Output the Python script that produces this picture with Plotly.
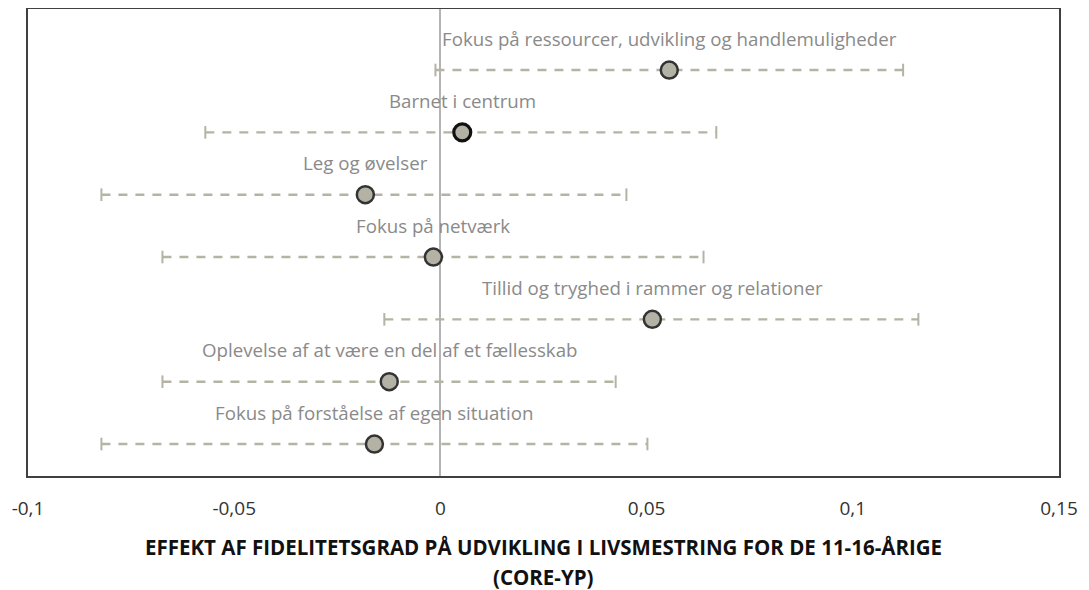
"""Fidelity effect on life-skills development (CORE-YP), 11-16 year olds."""

import plotly.graph_objects as go

LABELS = [
    "Fokus på ressourcer, udvikling og handlemuligheder",
    "Barnet i centrum",
    "Leg og øvelser",
    "Fokus på netværk",
    "Tillid og tryghed i rammer og relationer",
    "Oplevelse af at være en del af et fællesskab",
    "Fokus på forståelse af egen situation",
]
ESTIMATE = [0.0555, 0.0053, -0.0182, -0.0017, 0.0514, -0.0124, -0.0160]
LOWER = [-0.0012, -0.0570, -0.0822, -0.0674, -0.0136, -0.0674, -0.0822]
UPPER = [0.1122, 0.0669, 0.0451, 0.0638, 0.1159, 0.0425, 0.0502]
TICK_VALS = [-0.1, -0.05, 0, 0.05, 0.1, 0.15]
TICK_TEXT = ["-0,1", "-0,05", "0", "0,05", "0,1", "0,15"]

FONT = "Open Sans, Lato, sans-serif"
BAR = "#b5b3a4"      # dashed interval colour
DOT = "#b3b2a4"      # marker fill
LABEL = "#8a8a8a"

rows = list(range(len(LABELS), 0, -1))   # top row first

fig = go.Figure()

for y, lo, hi in zip(rows, LOWER, UPPER):
    fig.add_trace(go.Scatter(
        x=[lo, hi], y=[y, y], mode="lines+markers",
        line=dict(color=BAR, width=2.4, dash="9px,8px"),
        marker=dict(symbol="line-ns-open", size=9,
                    line=dict(color=BAR, width=2)),
        hoverinfo="skip", showlegend=False,
    ))

fig.add_trace(go.Scatter(
    x=ESTIMATE, y=rows, mode="markers",
    marker=dict(size=17, color=DOT,
                line=dict(color=["#333333", "#111111"] + ["#333333"] * 5,
                          width=[2.5, 3.2] + [2.5] * 5)),
    customdata=LABELS,
    hovertemplate="%{customdata}: %{x:.3f}<extra></extra>",
    showlegend=False,
))

for y, x, txt in zip(rows, ESTIMATE, LABELS):
    fig.add_annotation(x=x, y=y, text=txt, showarrow=False,
                       xanchor="center", yanchor="middle", yshift=32,
                       font=dict(family=FONT, size=18.7, color=LABEL))

TITLE_FONT = dict(family=FONT, size=20.5, color="#111111", weight="bold")
fig.add_annotation(
    x=0.5, y=0, xref="paper", yref="paper", yanchor="middle", yshift=-71,
    text="EFFEKT AF FIDELITETSGRAD PÅ UDVIKLING I LIVSMESTRING FOR DE 11-16-ÅRIGE",
    showarrow=False, font=TITLE_FONT,
)
fig.add_annotation(
    x=0.5, y=0, xref="paper", yref="paper", yanchor="middle", yshift=-101,
    text="(CORE-YP)", showarrow=False, font=TITLE_FONT,
)

fig.update_xaxes(
    range=[-0.1, 0.15], tickvals=TICK_VALS, ticktext=TICK_TEXT,
    showgrid=False, zeroline=True, zerolinecolor="#b4b4b4", zerolinewidth=2,
    showline=True, linecolor="#404040", linewidth=2, mirror=True,
    ticks="", ticklabelstandoff=14, automargin=False,
    tickfont=dict(family=FONT, size=19, color="#333333"),
)
fig.update_yaxes(
    range=[0.487, 7.979], showticklabels=False, showgrid=False, zeroline=False,
    showline=True, linecolor="#404040", linewidth=2, mirror=True, ticks="",
    automargin=False,
)
# the page body adds an 8px margin, so the figure is 8px smaller each way
fig.update_layout(
    width=1081, height=582,
    template="plotly_white",
    plot_bgcolor="white", paper_bgcolor="white",
    margin=dict(l=20, r=30, t=1, b=114),
    font=dict(family=FONT),
    hovermode="closest",
)

fig.write_html("out.html")
